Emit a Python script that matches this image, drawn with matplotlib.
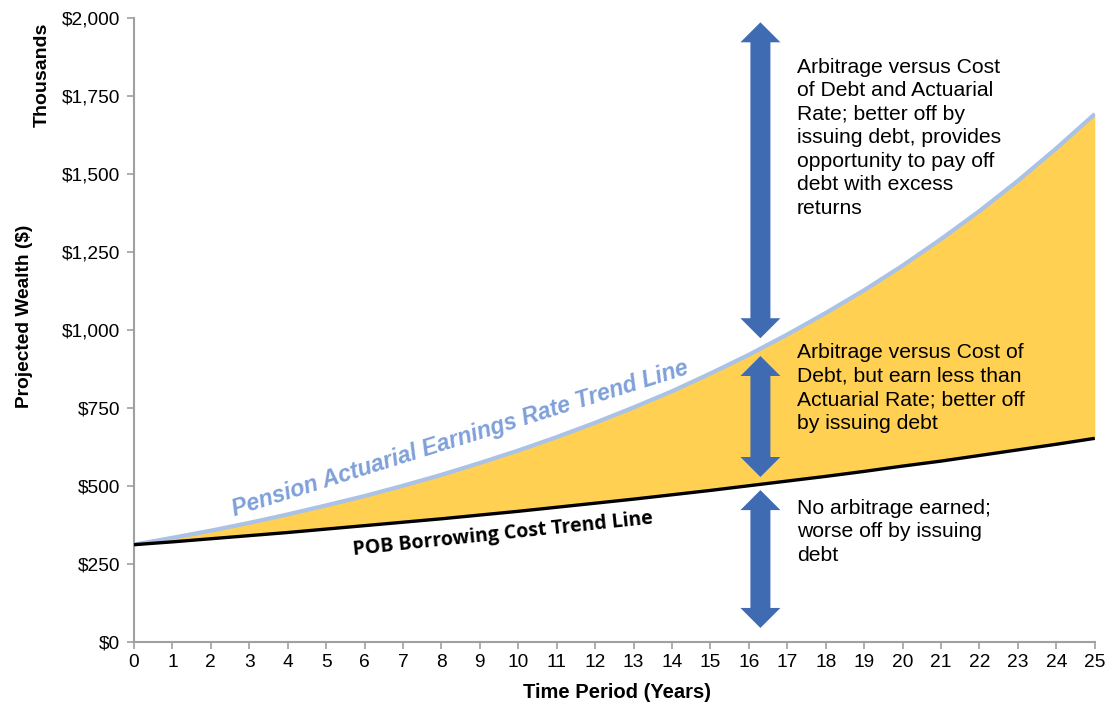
import matplotlib
matplotlib.use("Agg")
import numpy as np
import matplotlib.pyplot as plt
from matplotlib.patches import Polygon

# Projected wealth, thousands of dollars, by year
years = list(range(0, 26))
actuarial = [312, 334, 357, 382, 409, 438, 468, 501, 536, 574, 614, 657, 703,
             752, 804, 861, 921, 986, 1055, 1128, 1207, 1292, 1382, 1479, 1583, 1693]
borrowing = [312, 321, 331, 341, 351, 362, 373, 384, 395, 407, 419, 432, 445,
             458, 472, 486, 501, 516, 531, 547, 564, 580, 598, 616, 634, 653]
y_ticks = [0, 250, 500, 750, 1000, 1250, 1500, 1750, 2000]

# Double-headed arrows: (start, end) in thousands of dollars at year 16.3
arrow_x = 16.3
arrow_spans = [(974, 1987), (529, 917), (45, 487)]
notes = [
    (1874, "Arbitrage versus Cost\nof Debt and Actuarial\nRate; better off by\nissuing debt, provides\nopportunity to pay off\ndebt with excess\nreturns"),
    (958, "Arbitrage versus Cost of\nDebt, but earn less than\nActuarial Rate; better off\nby issuing debt"),
    (460, "No arbitrage earned;\nworse off by issuing\ndebt"),
]

plt.rcParams["font.family"] = ["Liberation Sans", "DejaVu Sans"]

fig = plt.figure(figsize=(11.16, 7.02), dpi=100)
ax = fig.add_axes([0.120, 0.0855, 0.861, 0.8885])

yellow = "#FFD052"
light_blue = "#A9C2E6"
arrow_blue = "#3F6BB3"

ax.fill_between(years, borrowing, actuarial, color=yellow, lw=0, zorder=1)
ax.plot(years, actuarial, color=light_blue, lw=3.0, zorder=3, solid_capstyle="butt")
ax.plot(years, borrowing, color="black", lw=2.4, zorder=3, solid_capstyle="butt")

ax.set_xlim(0, 25)
ax.set_ylim(0, 2000)
ax.set_xticks(years)
ax.set_xticklabels([str(y) for y in years])
ax.set_yticks(y_ticks)
ax.set_yticklabels([f"${v:,}" for v in y_ticks])
ax.tick_params(axis="both", labelsize=13.8, colors="#A0A0A0", labelcolor="black",
               length=5, width=1.2, direction="out")
ax.tick_params(axis="x", pad=4)
ax.tick_params(axis="y", pad=5)
for s in ("top", "right"):
    ax.spines[s].set_visible(False)
for s in ("left", "bottom"):
    ax.spines[s].set_color("#A0A0A0")
    ax.spines[s].set_linewidth(1.5)

fig.text(0.553, 1 - 692 / 702, "Time Period (Years)", fontsize=14.5, fontweight="bold",
         ha="center", va="center")
fig.text(25 / 1116, 1 - 316 / 702, "Projected Wealth ($)", rotation=90, fontsize=13.8,
         fontweight="bold", ha="center", va="center")
fig.text(42 / 1116, 1 - 75 / 702, "Thousands", rotation=90, fontsize=14,
         fontweight="bold", ha="center", va="center")


def double_arrow(x, y0, y1, head_w=40, head_l=20, tail_w=20):
    """Block arrow with heads at both ends; sizes in pixels."""
    (px, py0), (_, py1) = ax.transData.transform([(x, y0), (x, y1)])
    hw, tw = head_w / 2, tail_w / 2
    pts = [
        (px, py0),
        (px + hw, py0 + head_l), (px + tw, py0 + head_l),
        (px + tw, py1 - head_l), (px + hw, py1 - head_l),
        (px, py1),
        (px - hw, py1 - head_l), (px - tw, py1 - head_l),
        (px - tw, py0 + head_l), (px - hw, py0 + head_l),
    ]
    data_pts = ax.transData.inverted().transform(np.array(pts))
    ax.add_patch(Polygon(data_pts, closed=True, facecolor=arrow_blue,
                         edgecolor="none", zorder=4))


for lo, hi in arrow_spans:
    double_arrow(arrow_x, lo, hi)

for y, txt in notes:
    ax.text(17.25, y, txt, fontsize=15.2, va="top", ha="left", linespacing=1.3, zorder=5)

ax.text(8.5, 652, "Pension Actuarial Earnings Rate Trend Line", rotation=17.4,
        rotation_mode="anchor", ha="center", va="center", fontsize=16.6,
        fontweight="bold", fontstyle="italic", family=["Liberation Sans"],
        color="#7FA0D8", zorder=5)
ax.text(9.6, 345, "POB Borrowing Cost Trend Line", rotation=6,
        rotation_mode="anchor", ha="center", va="center", fontsize=14,
        fontweight="bold", family=["Open Sans", "DejaVu Sans"], color="black", zorder=5)

fig.savefig("out.png", dpi=100)
